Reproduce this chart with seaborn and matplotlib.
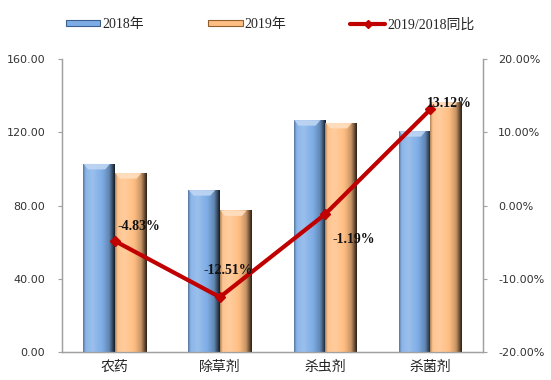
import numpy as np
import pandas as pd
import matplotlib
matplotlib.use('Agg')
import matplotlib.pyplot as plt
import seaborn as sns
from matplotlib.colors import LinearSegmentedColormap, to_rgb
from matplotlib.patches import Polygon, Patch
from matplotlib.lines import Line2D

categories = ['农药', '除草剂', '杀虫剂', '杀菌剂']
v2018 = [102.7, 88.4, 126.6, 120.6]
v2019 = [97.7, 77.3, 125.1, 136.4]
yoy = [-4.83, -12.51, -1.19, 13.12]
series_names = ['2018年', '2019年', '2019/2018同比']
left_ticks = [0, 40, 80, 120, 160]
right_ticks = [-20, -10, 0, 10, 20]

df = pd.DataFrame({'cat': categories * 2,
                   'year': [series_names[0]] * 4 + [series_names[1]] * 4,
                   'value': v2018 + v2019})

sns.set_theme(style='white')
plt.rcParams['font.family'] = ['Noto Sans CJK SC', 'DejaVu Sans']

BLUE = '#7EADE6'
ORANGE = '#FFBE82'
RED = '#C00000'

fig = plt.figure(figsize=(5.51, 3.80), dpi=100)
ax = fig.add_axes([0.1125, 0.0737, 0.7641, 0.771])
sns.barplot(data=df, x='cat', y='value', hue='year', palette=[BLUE, ORANGE],
            width=0.6, ax=ax, legend=False, saturation=1, edgecolor='none')
ax.set_ylim(0, 160)
ax.set_xlim(-0.5, 3.5)


def shade_cmap(base):
    r, g, b = to_rgb(base)
    def mix(c, t):
        return tuple(np.clip(np.array([r, g, b]) * (1 - abs(t)) + (np.array(c) * abs(t)), 0, 1))
    stops = [
        (0.0, mix((0, 0, 0), 0.35)),
        (0.08, mix((1, 1, 1), 0.10)),
        (0.30, mix((1, 1, 1), 0.22)),
        (0.60, (r, g, b)),
        (0.82, mix((0, 0, 0), 0.22)),
        (0.90, mix((0, 0, 0), 0.50)),
        (1.0, mix((0, 0, 0), 0.85)),
    ]
    return LinearSegmentedColormap.from_list('s', stops)


grad = np.linspace(0, 1, 256).reshape(1, -1)
bars = list(ax.patches)
for p in bars:
    x0, y0 = p.get_x(), p.get_y()
    w, h = p.get_width(), p.get_height()
    base = p.get_facecolor()
    cmap = shade_cmap(base[:3])
    im = ax.imshow(grad, extent=[x0, x0 + w, y0, y0 + h], aspect='auto',
                   cmap=cmap, interpolation='bicubic', zorder=3)
    im.set_clip_path(p)
    bev = 3.0
    r, g, b = base[:3]
    light = tuple(np.clip(np.array([r, g, b]) * 0.5 + 0.5, 0, 1))
    top = Polygon([[x0 + w * 0.02, y0 + h], [x0 + w * 0.85, y0 + h], [x0 + w * 0.7, y0 + h - bev],
                   [x0 + w * 0.16, y0 + h - bev]], closed=True, facecolor=light,
                  edgecolor='none', zorder=4, alpha=0.9)
    ax.add_patch(top)
ax.set_xlim(-0.5, 3.5)
ax.set_ylim(0, 160)

ax.set_xlabel('')
ax.set_ylabel('')
ax.set_yticks(left_ticks)
ax.set_yticklabels([f'{t:.2f}' for t in left_ticks], fontsize=8, color='#333333',
                   family=['DejaVu Sans'])
ax.tick_params(axis='x', length=0, labelsize=10, pad=6, colors='#222222')
ax.tick_params(axis='y', length=3, width=0.8, color='#A0A0A0', pad=9, direction='out', left=True)

ax2 = ax.twinx()
ax2.plot(range(len(categories)), yoy, color=RED, lw=3, marker='D', markersize=5, zorder=5)
ax2.set_ylim(-20, 20)
ax2.set_yticks(right_ticks)
ax2.set_yticklabels([f'{t:.2f}%' for t in right_ticks], fontsize=8, color='#333333',
                    family=['DejaVu Sans'])
ax2.tick_params(axis='y', length=3, width=0.8, color='#A0A0A0', pad=8, direction='out', right=True)

label_offsets = [(2, 10), (6, 19), (5, -18), (14, 4)]
label_ha = ['left', 'center', 'left', 'center']
for i, v in enumerate(yoy):
    ax2.annotate(f'{v:.2f}%', (i, v), xytext=label_offsets[i], textcoords='offset points',
                 ha=label_ha[i], va='center', fontsize=10, fontweight='bold',
                 family=['Liberation Serif'], color='#111111', zorder=6)

for a in (ax, ax2):
    a.spines['top'].set_visible(False)
    for s in ['left', 'right', 'bottom']:
        a.spines[s].set_color('#A0A0A0')
        a.spines[s].set_linewidth(0.9)

handles = [Patch(facecolor=BLUE, edgecolor='#3a5f8f', linewidth=0.8),
           Patch(facecolor=ORANGE, edgecolor='#8f5f2f', linewidth=0.8),
           Line2D([0], [0], color=RED, lw=3, marker='D', markersize=4)]
fig.legend(handles, series_names, loc='center', bbox_to_anchor=(0.49, 0.935), ncol=3,
           frameon=False, handlelength=2.5, handleheight=0.3, handletextpad=0.15,
           columnspacing=4.6, prop={'family': ['Liberation Serif', 'Noto Sans CJK SC'], 'size': 10})

fig.savefig('out.png', dpi=100)
